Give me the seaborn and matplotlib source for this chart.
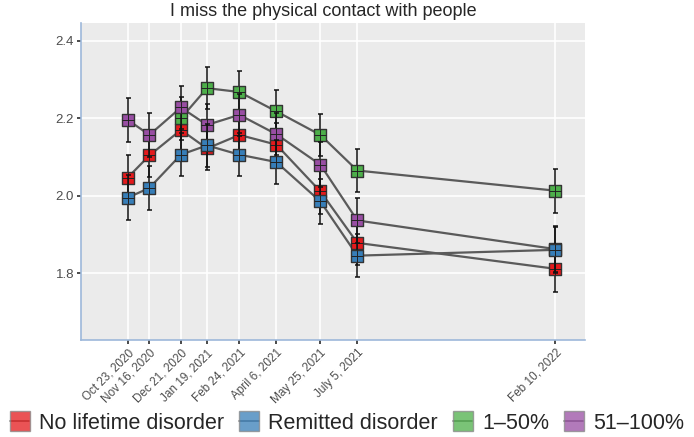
import numpy as np
import pandas as pd
import seaborn as sns
import matplotlib.pyplot as plt
from matplotlib.lines import Line2D

# waves
dates = ["2020-10-23", "2020-11-16", "2020-12-21", "2021-01-19", "2021-02-24",
         "2021-04-06", "2021-05-25", "2021-07-05", "2022-02-10"]
date_labels = ["Oct 23, 2020", "Nov 16, 2020", "Dec 21, 2020", "Jan 19, 2021", "Feb 24, 2021",
               "April 6, 2021", "May 25, 2021", "July 5, 2021", "Feb 10, 2022"]

groups = ["No lifetime disorder", "Remitted disorder", "1\u201350%", "51\u2013100%"]
colors = ["#E41A1C", "#377EB8", "#4DAF4A", "#984EA3"]

# means (NaN = not measured)
no_lifetime = [2.047, 2.104, 2.170, 2.122, 2.157, 2.132, 2.011, 1.878, 1.811]
remitted    = [1.995, 2.020, 2.106, 2.130, 2.106, 2.087, 1.985, 1.845, 1.860]
pct_1_50    = [np.nan, np.nan, 2.200, 2.278, 2.268, 2.218, 2.157, 2.065, 2.013]
pct_51_100  = [2.196, 2.157, 2.228, 2.183, 2.209, 2.159, 2.080, 1.936, 1.862]

# standard errors
se_no_lifetime = [0.058, 0.056, 0.056, 0.056, 0.056, 0.056, 0.058, 0.058, 0.060]
se_remitted    = [0.058, 0.056, 0.056, 0.056, 0.056, 0.056, 0.058, 0.056, 0.060]
se_1_50        = [np.nan, np.nan, 0.055, 0.054, 0.055, 0.055, 0.055, 0.056, 0.057]
se_51_100      = [0.056, 0.056, 0.055, 0.055, 0.055, 0.055, 0.058, 0.058, 0.060]

means = [no_lifetime, remitted, pct_1_50, pct_51_100]
ses = [se_no_lifetime, se_remitted, se_1_50, se_51_100]

rows = []
for g, m, s in zip(groups, means, ses):
    for d, v, e in zip(dates, m, s):
        rows.append({"date": pd.Timestamp(d), "group": g, "mean": v, "se": e})
df = pd.DataFrame(rows).dropna()

sns.set_theme(style="darkgrid")
plt.rcParams['font.family'] = ['Liberation Sans', 'DejaVu Sans']

fig = plt.figure(figsize=(6.94, 4.37), dpi=100)
ax = fig.add_axes([0.1167, 0.222, 0.7263, 0.725])
ax.set_facecolor("#EBEBEB")

# draw order: red, green, purple, blue on top
order = [0, 2, 3, 1]
for k, i in enumerate(order):
    sub = df[df["group"] == groups[i]]
    sns.lineplot(data=sub, x="date", y="mean", color="#5a5a5a", lw=1.6,
                 ax=ax, legend=False, zorder=2 + k * 0.1, errorbar=None)
for k, i in enumerate(order):
    sub = df[df["group"] == groups[i]]
    ax.errorbar(sub["date"], sub["mean"], yerr=sub["se"], fmt="none",
                ecolor="#111111", elinewidth=1.1, capsize=1.8, capthick=1.1,
                zorder=3 + k)
    ax.scatter(sub["date"], sub["mean"], marker="s", s=80, color=colors[i],
               edgecolor="#333333", linewidth=1.0, zorder=3.2 + k)
    ax.scatter(sub["date"], sub["mean"], marker="+", s=70, color="#222222",
               linewidth=0.7, zorder=3.3 + k)

ax.set_xlim(pd.Timestamp("2020-10-23") - pd.Timedelta(days=52),
            pd.Timestamp("2020-10-23") + pd.Timedelta(days=508))
ax.set_ylim(1.627, 2.446)
ax.set_xticks([pd.Timestamp(d) for d in dates])
ax.set_xticklabels(date_labels, rotation=45, ha="right", rotation_mode="anchor",
                   fontsize=8.5, color="#4d4d4d")
ax.set_yticks([1.8, 2.0, 2.2, 2.4])
ax.set_yticklabels(["1.8", "2.0", "2.2", "2.4"], fontsize=9.5, color="#4d4d4d")
ax.grid(True, color="white", lw=1.2)
ax.tick_params(axis="both", length=3, color="#333333", pad=2, direction="out",
               bottom=True, left=True)
ax.set_xlabel("")
ax.set_ylabel("")
for side in ["top", "right"]:
    ax.spines[side].set_visible(False)
for side in ["left", "bottom"]:
    ax.spines[side].set_visible(True)
    ax.spines[side].set_color("#9DB8DA")
    ax.spines[side].set_linewidth(1.2)

ax.set_title("I miss the physical contact with people", fontsize=13, pad=5, x=0.48)

handles = [Line2D([0], [0], marker="s", markersize=15, markerfacecolor=c, alpha=0.75,
                  markeredgecolor="#888888", color="#444444", lw=1.2)
           for c in colors]
fig.legend(handles, groups, loc="lower center", bbox_to_anchor=(0.5, -0.012), ncol=4,
           frameon=False, fontsize=15.5, handlelength=0.9, handletextpad=0.45,
           columnspacing=0.7, borderaxespad=0.0)

fig.savefig("out.png", dpi=100)
